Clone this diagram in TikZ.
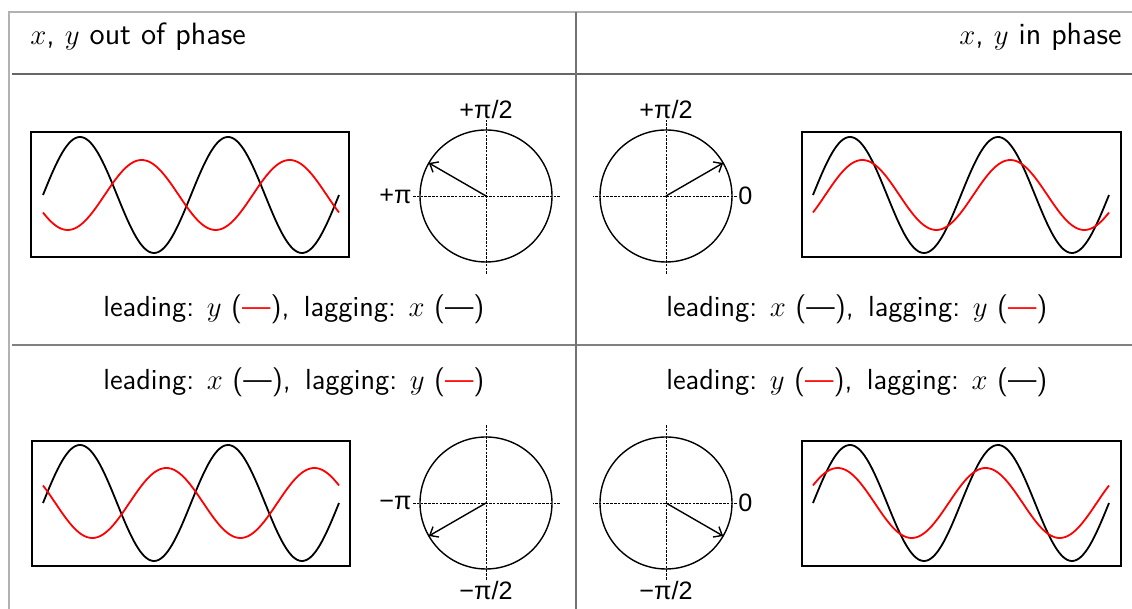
\documentclass[tikz,border=0pt]{standalone}
\usepackage{fontspec}
\usepackage{tikz}
\usetikzlibrary{arrows.meta}
\newfontfamily\dialfont{Liberation Sans}

\begin{document}
\begin{tikzpicture}[x=0.5pt,y=0.5pt,font={\sffamily\fontsize{14.5}{17}\selectfont},
  >={Straight Barb[length=3.6pt,width=6pt]},
  wave/.style={line width=0.9pt,domain=0:296,samples=150,smooth},
  frame/.style={line width=0.9pt},
  axis/.style={dash pattern=on 1.3pt off 0.6pt,line width=0.45pt},
  dial/.style={line width=0.7pt},
  dialtext/.style={font={\dialfont\fontsize{12.6}{14}\selectfont},inner sep=0.5pt}]
  \useasboundingbox (0,0) rectangle (1132,609);
  \draw[black!30,line width=0.6pt] (9,0) -- (9,597) -- (1132,597);
  \draw[black!60,line width=0.8pt] (12,535) -- (1132,535);
  \draw[black!50,line width=0.8pt] (12,264) -- (1132,264);
  \draw[black!55,line width=0.8pt] (576,0) -- (576,597);
  \node[anchor=base west,inner sep=0,font={\sffamily\fontsize{15.4}{18}\selectfont}] (headl) at (30,564) {$x$, $y$ out of phase};
  \node[anchor=base east,inner sep=0,font={\sffamily\fontsize{15.4}{18}\selectfont}] (headr) at (1122,564) {$x$, $y$ in phase};

  \draw[frame] (31,352) rectangle (349,477);
  \draw[wave] plot ({43+\x},{414+58*sin(2.4324*\x)});
  \draw[wave,red] plot ({43+\x},{414+35*sin(2.4324*\x-150)});
  \draw[frame] (802,352) rectangle (1121,477);
  \draw[wave] plot ({813+\x},{414+58*sin(2.4324*\x)});
  \draw[wave,red] plot ({813+\x},{414+35*sin(2.4324*\x-30)});
  \draw[frame] (32,43) rectangle (350,168);
  \draw[wave] plot ({43+\x},{106+58*sin(2.4324*\x)});
  \draw[wave,red] plot ({43+\x},{106+35*sin(2.4324*\x+150)});
  \draw[frame] (802,43) rectangle (1121,168);
  \draw[wave] plot ({813+\x},{106+58*sin(2.4324*\x)});
  \draw[wave,red] plot ({813+\x},{106+35*sin(2.4324*\x+30)});

  \coordinate (otl) at (486,413);
  \draw[dial] (otl) circle (66);
  \draw[axis] (otl) ++(-73,0) coordinate (otlw) -- ++(147,0);
  \draw[axis] (otl) ++(0,-78) -- ++(0,154) coordinate (otln);
  \node[dialtext,anchor=east] (ltlw) at (otlw) {+π};
  \node[dialtext,anchor=south] (ltln) at (otln) {+π/2};
  \draw[dial,->] (otl) -- ++(150:66);

  \coordinate (otr) at (666,413);
  \draw[dial] (otr) circle (66);
  \draw[axis] (otr) -- ++(-73,0);
  \draw[axis] (otr) -- ++(71,0) coordinate (otre);
  \draw[axis] (otr) ++(0,-78) -- ++(0,154) coordinate (otrn);
  \node[dialtext,anchor=west] (ltre) at (otre) {0};
  \node[dialtext,anchor=south] (ltrn) at (otrn) {+π/2};
  \draw[dial,->] (otr) -- ++(30:66);

  \coordinate (obl) at (486,106);
  \draw[dial] (obl) circle (66);
  \draw[axis] (obl) ++(-73,0) coordinate (oblw) -- ++(147,0);
  \draw[axis] (obl) ++(0,78) -- ++(0,-155) coordinate (obls);
  \node[dialtext,anchor=east] (lblw) at (oblw) {−π};
  \node[dialtext,anchor=north] (lbls) at (obls) {−π/2};
  \draw[dial,->] (obl) -- ++(210:66);

  \coordinate (obr) at (666,106);
  \draw[dial] (obr) circle (66);
  \draw[axis] (obr) -- ++(-73,0);
  \draw[axis] (obr) -- ++(71,0) coordinate (obre);
  \draw[axis] (obr) ++(0,78) -- ++(0,-155) coordinate (obrs);
  \node[dialtext,anchor=west] (lbre) at (obre) {0};
  \node[dialtext,anchor=north] (lbrs) at (obrs) {−π/2};
  \draw[dial,->] (obr) -- ++(-30:66);

  \node[anchor=base] (captl) at (294,292) {leading: $y$ (\textcolor{red}{---}),\enspace lagging: $x$ (---)};
  \node[anchor=base] (captr) at (857,292) {leading: $x$ (---),\enspace lagging: $y$ (\textcolor{red}{---})};
  \node[anchor=base] (capbl) at (294,219) {leading: $x$ (---),\enspace lagging: $y$ (\textcolor{red}{---})};
  \node[anchor=base] (capbr) at (857,219) {leading: $y$ (\textcolor{red}{---}),\enspace lagging: $x$ (---)};
\end{tikzpicture}
\end{document}
